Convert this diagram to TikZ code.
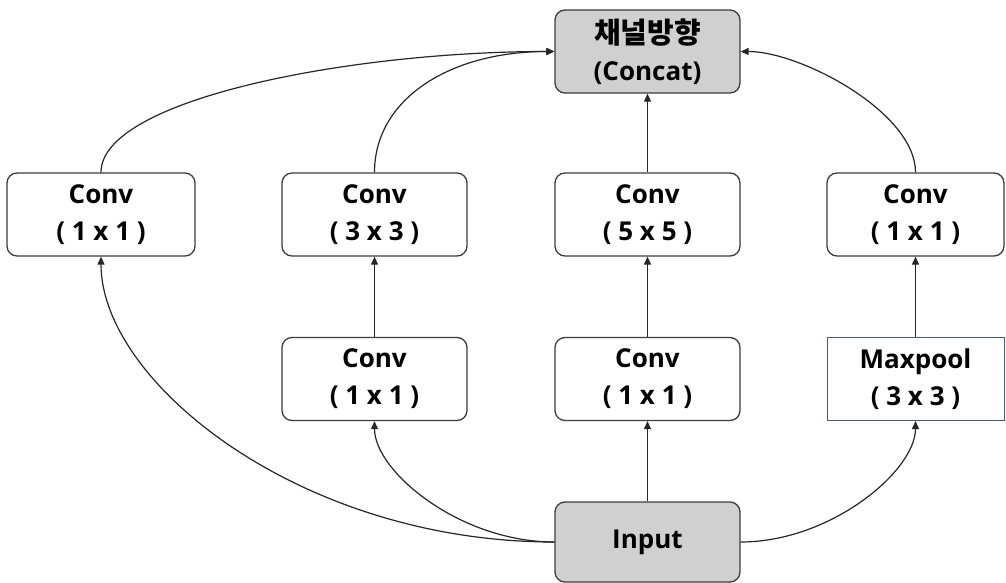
\documentclass[tikz,border=0pt]{standalone}
\usepackage{fontspec}
\setmainfont{Open Sans}
\newfontfamily\kofont{Noto Sans CJK KR}
\usetikzlibrary{arrows.meta}
\definecolor{boxgray}{RGB}{208,208,208}
\definecolor{boxline}{RGB}{60,60,60}
\definecolor{poolline}{RGB}{72,92,122}
\tikzset{
  block/.style={rectangle, rounded corners=10pt, draw=boxline, line width=1.3pt,
    minimum width=185pt, minimum height=83pt, inner sep=0pt, align=center,
    font=\bfseries\fontsize{26}{37}\selectfont},
  shaded/.style={block, fill=boxgray},
  poolbox/.style={block, sharp corners, draw=poolline, line width=1pt},
  link/.style={line width=1.2pt, draw=black!85, -{Triangle[length=8pt,width=7pt]}}
}
\begin{document}
\begin{tikzpicture}[x=1pt,y=-1pt]
\useasboundingbox (0,0) rectangle (1006,583);

% output: concatenation along the channel axis
\node[shaded] (concat) at (647.5,51.5)
  {{\kofont\bfseries\fontsize{29}{37}\selectfont 채널방향}\\(Concat)};

% upper row of convolutions
\node[block, minimum width=188pt] (b1) at (101,214.5) {Conv\\( 1 x 1 )};
\node[block] (b2) at (374.5,214.5) {Conv\\( 3 x 3 )};
\node[block] (b3) at (647.5,214.5) {Conv\\( 5 x 5 )};
\node[block, minimum width=177pt] (b4) at (915.5,214.5) {Conv\\( 1 x 1 )};

% lower row: reductions and pooling
\node[block] (c2) at (374.5,379) {Conv\\( 1 x 1 )};
\node[block] (c3) at (647.5,379) {Conv\\( 1 x 1 )};
\node[poolbox, minimum width=177pt] (mp) at (915.5,379) {Maxpool\\( 3 x 3 )};

% input
\node[shaded, minimum height=80pt] (in) at (647.5,542) {Input};

% from the input to each branch
\draw[link] (in.west) .. controls +(-255,0) and +(0,125) .. (b1.south);
\draw[link] (in.west) .. controls +(-95,0) and +(0,50) .. (c2.south);
\draw[link] (in.north) -- (c3.south);
\draw[link] (in.east) .. controls +(90,0) and +(0,50) .. (mp.south);

% inside the branches
\draw[link] (c2.north) -- (b2.south);
\draw[link] (c3.north) -- (b3.south);
\draw[link] (mp.north) -- (b4.south);

% into the concatenation
\draw[link] (b1.north) .. controls +(0,-73) and +(-205,0) .. (concat.west);
\draw[link] (b2.north) .. controls +(0,-73) and +(-105,0) .. (concat.west);
\draw[link] (b3.north) -- (concat.south);
\draw[link] (b4.north) .. controls +(0,-60) and +(60,0) .. (concat.east);
\end{tikzpicture}
\end{document}
